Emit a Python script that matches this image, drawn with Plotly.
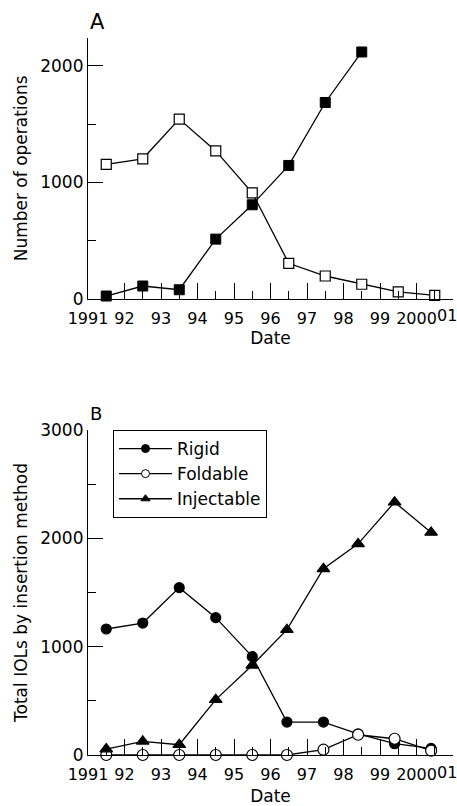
import plotly.graph_objects as go

# ---------------- data ----------------
years_a_open = [1991.5, 1992.5, 1993.5, 1994.5, 1995.5, 1996.5, 1997.5, 1998.5, 1999.5, 2000.5]
ops_open = [1154, 1202, 1543, 1270, 910, 304, 195, 124, 58, 29]
years_a_filled = [1991.5, 1992.5, 1993.5, 1994.5, 1995.5, 1996.5, 1997.5, 1998.5]
ops_filled = [23, 109, 77, 512, 807, 1145, 1686, 2120]

years_b = [1991.5, 1992.5, 1993.5, 1994.5, 1995.5, 1996.45, 1997.45, 1998.4, 1999.4, 2000.4]
rigid = [1163, 1218, 1545, 1268, 908, 304, 304, 195, 104, 61]
foldable = [0, 0, 0, 0, 0, 0, 49, 187, 150, 40]
injectable = [55, 126, 95, 511, 828, 1157, 1719, 1949, 2334, 2054]

x_tickvals = [1991, 1992, 1993, 1994, 1995, 1996, 1997, 1998, 1999, 2000, 2001]
x_ticktext = ["1991", "92", "93", "94", "95", "96", "97", "98", "99", "2000", ""]
last_tick_label = "01"
x_minor = [1991.5, 1992.5, 1993.5, 1994.5, 1995.5, 1996.5, 1997.5, 1998.5, 1999.5, 2000.5]

FONT = "DejaVu Sans"
XT = 16
LINE = dict(color="black", width=1.3)

fig = go.Figure()

# Panel A
fig.add_trace(go.Scatter(x=years_a_open, y=ops_open, mode="lines+markers", line=LINE,
                         marker=dict(symbol="square", size=10, color="white",
                                     line=dict(color="black", width=1.2)),
                         showlegend=False, xaxis="x", yaxis="y", cliponaxis=False))
fig.add_trace(go.Scatter(x=years_a_filled, y=ops_filled, mode="lines+markers", line=LINE,
                         marker=dict(symbol="square", size=10, color="black",
                                     line=dict(color="black", width=1)),
                         showlegend=False, xaxis="x", yaxis="y", cliponaxis=False))

# Panel B
specs = [("Rigid", rigid, "circle", "black", 10),
         ("Foldable", foldable, "circle", "white", 11),
         ("Injectable", injectable, "triangle-up", "black", 11)]
for name, vals, sym, fill, sz in specs:
    fig.add_trace(go.Scatter(x=years_b, y=vals, mode="lines+markers", line=LINE, name=name,
                             marker=dict(symbol=sym, size=sz, color=fill,
                                         line=dict(color="black", width=1.2)),
                             showlegend=False, xaxis="x2", yaxis="y2", cliponaxis=False))
for name, vals, sym, fill, sz in specs:
    fig.add_trace(go.Scatter(x=[None], y=[None], mode="lines+markers", line=LINE, name=name,
                             marker=dict(symbol=sym, size=8, color=fill,
                                         line=dict(color="black", width=1)),
                             showlegend=True, xaxis="x2", yaxis="y2"))

common_x = dict(range=[1991, 2001], tickmode="array", tickvals=x_tickvals, ticktext=x_ticktext,
                ticks="inside", ticklen=16, tickwidth=1, tickcolor="black",
                showline=True, linecolor="black", linewidth=1.2, showgrid=False, zeroline=False,
                automargin=False, tickfont=dict(family=FONT, size=XT, color="black"),
                ticklabelstandoff=5, ticklabeloverflow="allow",
                minor=dict(ticks="inside", ticklen=8, tickwidth=1, tickcolor="black",
                           tickmode="array", tickvals=x_minor, showgrid=False))

common_y = dict(ticks="inside", ticklen=15, tickwidth=1, tickcolor="black",
                showline=True, linecolor="black", linewidth=1.2, showgrid=False, zeroline=False,
                automargin=False, tickfont=dict(family=FONT, size=17, color="black"),
                ticklabeloverflow="allow")

H_PLOT = 806 - 38 - 51
dom_a = [(755 - 298.7) / H_PLOT, 1.0]
dom_b = [0.0, (755 - 430) / H_PLOT]

annos = [
    dict(text="A", x=0, y=1 + (38 - 22) / H_PLOT, xref="paper", yref="paper",
         xanchor="left", yanchor="middle", showarrow=False,
         font=dict(family=FONT, size=21, color="black")),
    dict(text="B", x=0, y=dom_b[1] + (430 - 413) / H_PLOT, xref="paper", yref="paper",
         xanchor="left", yanchor="middle", showarrow=False,
         font=dict(family=FONT, size=18, color="black")),
]
# last x tick label, kept inside the page edge
for ybase in (dom_a[0], dom_b[0]):
    annos.append(dict(text=last_tick_label, x=(458 - 88) / 365, y=ybase, xref="paper", yref="paper",
                      xanchor="right", yanchor="middle", yshift=-17, showarrow=False,
                      borderpad=0, font=dict(family=FONT, size=XT, color="black")))

fig.update_layout(
    template="none",
    width=457, height=806,
    margin=dict(l=88, r=4, t=38, b=51),
    paper_bgcolor="white", plot_bgcolor="white",
    font=dict(family=FONT, size=17, color="black"),
    xaxis=dict(common_x, domain=[0, 1], anchor="y",
               title=dict(text="Date", font=dict(family=FONT, size=17, color="black"), standoff=4)),
    yaxis=dict(common_y, domain=dom_a, anchor="x", range=[0, 2240],
               tickvals=[0, 1000, 2000],
               minor=dict(ticks="inside", ticklen=8, tickwidth=1, tickcolor="black",
                          tickmode="array", tickvals=[500, 1500], showgrid=False),
               title=dict(text="Number of operations", font=dict(family=FONT, size=17, color="black"), standoff=8)),
    xaxis2=dict(common_x, domain=[0, 1], anchor="y2",
                title=dict(text="Date", font=dict(family=FONT, size=17, color="black"), standoff=7)),
    yaxis2=dict(common_y, domain=dom_b, anchor="x2", range=[0, 3000],
                tickvals=[0, 1000, 2000, 3000],
                minor=dict(ticks="inside", ticklen=8, tickwidth=1, tickcolor="black",
                           tickmode="array", tickvals=[500, 1500, 2500], showgrid=False),
                title=dict(text="Total IOLs by insertion method", font=dict(family=FONT, size=17, color="black"), standoff=8)),
    legend=dict(x=(113 - 88) / 365, y=dom_b[1], xanchor="left", yanchor="top",
                xref="paper", yref="paper",
                bordercolor="black", borderwidth=1, bgcolor="white",
                font=dict(family=FONT, size=17, color="black"),
                itemwidth=53, tracegroupgap=0),
    annotations=annos,
)

fig.write_html("out.html", config={"displayModeBar": False},
               post_script="document.body.style.margin='0';document.body.style.overflow='hidden';")
